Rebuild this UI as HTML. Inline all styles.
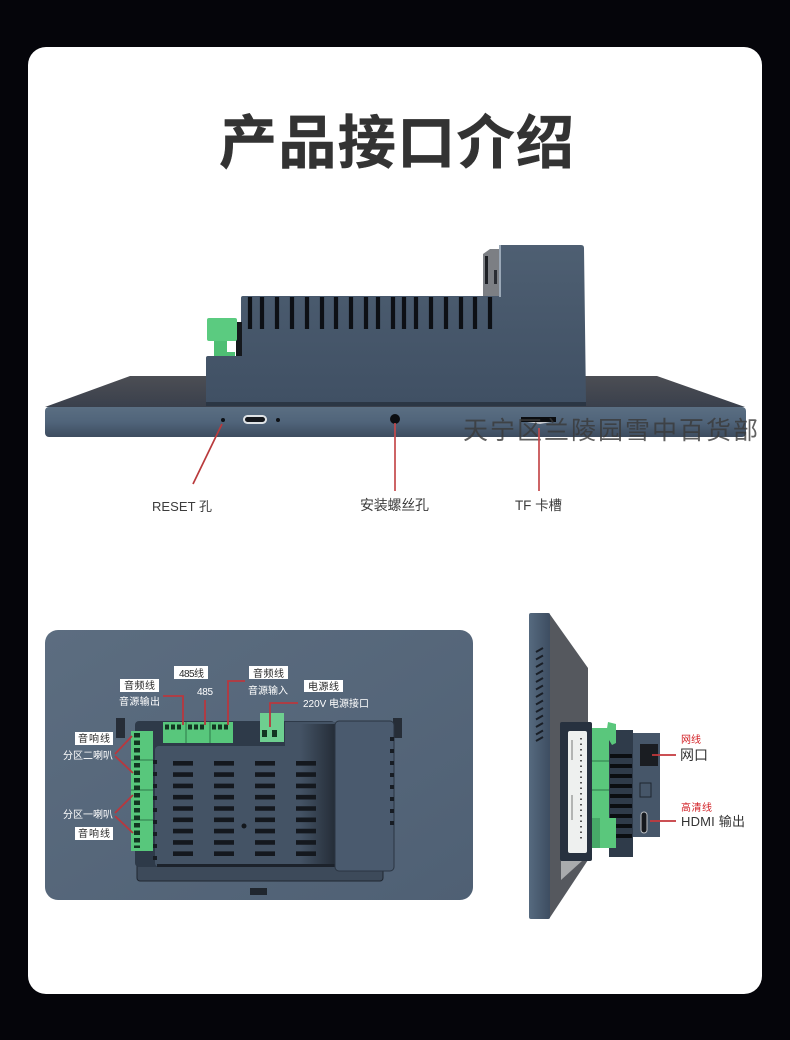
<!DOCTYPE html>
<html lang="zh"><head><meta charset="utf-8"><title>产品接口介绍</title>
<style>
html,body{margin:0;padding:0;background:#05050a}
svg{display:block}
text{font-family:"Liberation Sans","Noto Sans CJK SC",sans-serif}
</style></head><body>
<svg width="790" height="1040" viewBox="0 0 790 1040" xmlns="http://www.w3.org/2000/svg">
<defs>
<linearGradient id="strip" x1="0" y1="0" x2="0" y2="1"><stop offset="0" stop-color="#5a6e82"/><stop offset=".5" stop-color="#50647a"/><stop offset="1" stop-color="#3d4c5f"/></linearGradient>
<linearGradient id="top" x1="0" y1="0" x2="0" y2="1"><stop offset="0" stop-color="#4c4e54"/><stop offset="1" stop-color="#3a404c"/></linearGradient>
<linearGradient id="box" x1="0" y1="0" x2="0" y2="1"><stop offset="0" stop-color="#4e5f72"/><stop offset="1" stop-color="#405064"/></linearGradient>
<linearGradient id="back" x1="0" y1="0" x2="1" y2="1"><stop offset="0" stop-color="#5c6d80"/><stop offset="1" stop-color="#4f6074"/></linearGradient>
<linearGradient id="side" x1="0" y1="0" x2="1" y2="0"><stop offset="0" stop-color="#566a7f"/><stop offset="1" stop-color="#3d4d61"/></linearGradient>
<linearGradient id="sh" x1="0" y1="0" x2="1" y2="0"><stop offset="0" stop-color="#445365"/><stop offset="1" stop-color="#252d38"/></linearGradient>
</defs>
<rect width="790" height="1040" fill="#05050a"/>
<rect x="28" y="47" width="734" height="947" rx="18" fill="#fff"/>
<text x="219" y="163" font-size="58" font-weight="700" fill="#333" stroke="#333" stroke-width=".5" textLength="355" lengthAdjust="spacing">产品接口介绍</text>

<!-- side view -->
<path d="M45 407 L130 376 H657 L745 407 Z" fill="url(#top)"/>
<rect x="45" y="407" width="701" height="30" rx="4" fill="url(#strip)"/>
<path d="M241 298 q0 -2 2 -2 H483 V296 H500 V245 H581 q3 0 3 3 L586 404 H206 V358 q0 -2 2 -2 H241 Z" fill="url(#box)"/>
<rect x="206" y="402" width="380" height="4" fill="#2b3644"/>
<path d="M483 254 L490 249 H500 V296 H483 Z" fill="#7c7f84"/>
<rect x="485" y="256" width="3" height="28" fill="#1c1f24"/>
<rect x="494" y="270" width="3" height="14" fill="#2a2d33"/>
<rect x="499" y="245" width="2" height="52" fill="#9aa8b7"/>
<path d="M250 297V329M262 297V329M277 297V329M292 297V329M307 297V329M322 297V329M336 297V329M351 297V329M366 297V329M378 297V329M393 297V329M404 297V329M416 297V329M431 297V329M446 297V329M461 297V329M475 297V329M490 297V329" stroke="#0d1015" stroke-width="4.2" fill="none"/>
<rect x="236" y="322" width="6" height="34" fill="#15181c"/>
<path d="M214 340 H227 V352 L235 352 V356 L214 356 Z" fill="#4fbf74"/>
<rect x="207" y="318" width="30" height="23" rx="2" fill="#5bcb80"/>
<circle cx="223" cy="420" r="2" fill="#0e1116"/>
<circle cx="278" cy="420" r="2" fill="#0e1116"/>
<rect x="243" y="415" width="24" height="9" rx="4.500" fill="#dfe3e6"/>
<rect x="245" y="417" width="20" height="5" rx="2.500" fill="#14171c"/>
<circle cx="395" cy="419" r="5" fill="#0b0d10"/>
<rect x="521" y="417" width="35" height="5" fill="#0b0d10"/>
<path d="M527 422 H551 L540 424 Z" fill="#c9ccd0"/>
<text x="463" y="439" font-size="25" fill="#3a3a3a" fill-opacity=".8" textLength="295" lengthAdjust="spacing">天宁区兰陵园雪中百货部</text>
<path d="M222 424 L193 484" stroke="#b93a3c" stroke-width="1.700" fill="none"/>
<path d="M395 423 V491" stroke="#c4494b" stroke-width="1.700" fill="none"/>
<path d="M539 428 V491" stroke="#c4494b" stroke-width="1.700" fill="none"/>
<text x="152" y="511" font-size="13" fill="#3c3c3c" textLength="60">RESET 孔</text>
<text x="360" y="510" font-size="14" fill="#3c3c3c" textLength="69">安装螺丝孔</text>
<text x="515" y="510" font-size="13.500" fill="#3c3c3c" textLength="47">TF 卡槽</text>

<!-- back view -->
<rect x="45" y="630" width="428" height="270" rx="13" fill="url(#back)"/>
<rect x="116" y="718" width="9" height="20" fill="#262d37"/>
<rect x="393" y="718" width="9" height="20" fill="#262d37"/>
<rect x="137" y="860" width="246" height="21" rx="3" fill="#3d4a5a" stroke="#1f2630"/>
<rect x="250" y="888" width="17" height="7" fill="#20262e"/>
<rect x="135" y="721" width="200" height="146" rx="4" fill="#2e3a49"/>
<rect x="155" y="746" width="185" height="121" rx="4" fill="#445365"/>
<rect x="285" y="722" width="50" height="26" fill="#445365"/>
<rect x="300" y="724" width="35" height="143" fill="url(#sh)"/>
<rect x="240" y="722" width="45" height="24" fill="#2e3a49"/>
<rect x="157" y="864" width="178" height="3" fill="#1c222b"/>
<path d="M183 761 V857 M224 761 V857 M265 761 V857 M306 761 V857" stroke="#14181e" stroke-width="20" stroke-dasharray="4.600 6.700" fill="none"/>
<circle cx="244" cy="826" r="2.500" fill="#13171c"/>
<rect x="335" y="721" width="59" height="150" rx="4" fill="#4a5a6e" stroke="#2a3441"/>
<path d="M392 737 v90" stroke="#171c23" stroke-width="4" stroke-dasharray="4 8" fill="none"/>
<path d="M155 760 v100" stroke="#171c23" stroke-width="4" stroke-dasharray="4 8" fill="none"/>
<rect x="163" y="722" width="70" height="21" fill="#58c77c"/>
<path d="M186 722 V743 M210 722 V743" stroke="#2e7a4a" stroke-width="1"/>
<path d="M165 727 H183 M188 727 H206 M212 727 H230" stroke="#123621" stroke-width="5" stroke-dasharray="4 2" fill="none"/>
<rect x="131" y="731" width="22" height="120" fill="#58c77c"/>
<path d="M131 760 H153 M131 790 H153 M131 820 H153" stroke="#2e7a4a" stroke-width="1"/>
<path d="M137 733 V848" stroke="#123621" stroke-width="6" stroke-dasharray="4.500 3" fill="none"/>
<rect x="260" y="713" width="24" height="29" fill="#6ecf90"/>
<rect x="262" y="730" width="5" height="7" fill="#123621"/>
<rect x="272" y="730" width="5" height="7" fill="#123621"/>
<path d="M163 696 H183 V725 M205 700 V725 M245 681 H228 V725 M298 703 H270 V727" stroke="#b8383e" stroke-width="1.800" fill="none"/>
<path d="M115 754 L132 736 M115 756 L133 773 M115 813 L133 795 M115 816 L133 833" stroke="#b8383e" stroke-width="1.800" fill="none"/>
<g fill="#fff">
<rect x="120" y="679" width="39" height="13"/><rect x="174" y="666" width="34" height="13"/><rect x="249" y="666" width="39" height="13"/><rect x="304" y="680" width="39" height="12"/><rect x="75" y="732" width="38" height="13"/><rect x="75" y="827" width="38" height="13"/>
</g>
<g font-size="10" fill="#2a2a2a">
<text x="124" y="689" textLength="31">音频线</text><text x="179" y="677" textLength="25">485线</text><text x="253" y="677" textLength="31">音频线</text><text x="308" y="690" textLength="31">电源线</text><text x="78" y="742" textLength="32">音响线</text><text x="78" y="837" textLength="32">音响线</text>
</g>
<g font-size="10" fill="#fff">
<text x="119" y="705" textLength="41">音源输出</text><text x="197" y="695" textLength="16">485</text><text x="248" y="694" textLength="40">音源输入</text><text x="303" y="707" textLength="66">220V 电源接口</text><text x="63" y="759" textLength="50">分区二喇叭</text><text x="63" y="818" textLength="50">分区一喇叭</text>
</g>

<!-- right view -->
<path d="M549 613 L588 668 V860 L549 919 Z" fill="#55585e"/>
<rect x="529" y="613" width="21" height="306" rx="2" fill="url(#side)"/>
<path d="M536 652 L543 648 M536 659.500 L543 655.500 M536 667 L543 663 M536 674.500 L543 670.500 M536 682 L543 678 M536 689.500 L543 685.500 M536 697 L543 693 M536 704.500 L543 700.500 M536 712 L543 708 M536 719.500 L543 715.500 M536 727 L543 723 M536 734.500 L543 730.500 M536 741 L543 737" stroke="#1a1f27" stroke-width="2" fill="none"/>
<path d="M561 861 H582 L561 880 Z" fill="#a9abad"/>
<rect x="632" y="733" width="28" height="104" fill="#465669"/>
<rect x="609" y="730" width="24" height="127" fill="#2f3b4a"/>
<path d="M610 756 H632 M610 766 H632 M610 776 H632 M610 786 H632 M610 796 H632 M610 806 H632 M610 816 H632 M610 826 H632 M610 836 H632" stroke="#0b0e12" stroke-width="4"/>
<rect x="560" y="722" width="32" height="139" rx="2" fill="#27313f"/>
<rect x="568" y="731" width="19" height="122" rx="2" fill="#eef0ef"/>
<path d="M581 738 V842" stroke="#555" stroke-width="2" stroke-dasharray="1.500 4" fill="none"/>
<path d="M572 740 V760 M572 795 V820" stroke="#777" stroke-width="1"/>
<rect x="592" y="728" width="17" height="90" fill="#5ac77c"/>
<path d="M592 761 H609 M592 790 H609" stroke="#2e7a4a"/>
<rect x="592" y="818" width="8" height="30" fill="#47a968"/>
<rect x="600" y="818" width="16" height="30" fill="#5ac77c"/>
<path d="M608 722 L616 724 V743 L612 745 L606 735 Z" fill="#5ac77c"/>
<rect x="640" y="744" width="18" height="22" fill="#1a1d22"/>
<rect x="640" y="783" width="11" height="14" fill="none" stroke="#1e2530" stroke-width="1"/>
<rect x="641" y="812" width="6" height="21" rx="3" fill="#15181d" stroke="#b9bcc0"/>
<path d="M652 755 H676 M650 821 H676" stroke="#c4383c" stroke-width="1.800" fill="none"/>
<text x="681" y="743" font-size="10" fill="#d21f24" textLength="20">网线</text>
<text x="680" y="760" font-size="14" fill="#333" textLength="28">网口</text>
<text x="681" y="811" font-size="10" fill="#d21f24" textLength="31">高清线</text>
<text x="681" y="826" font-size="13" fill="#333" textLength="64">HDMI 输出</text>
</svg>
</body></html>
